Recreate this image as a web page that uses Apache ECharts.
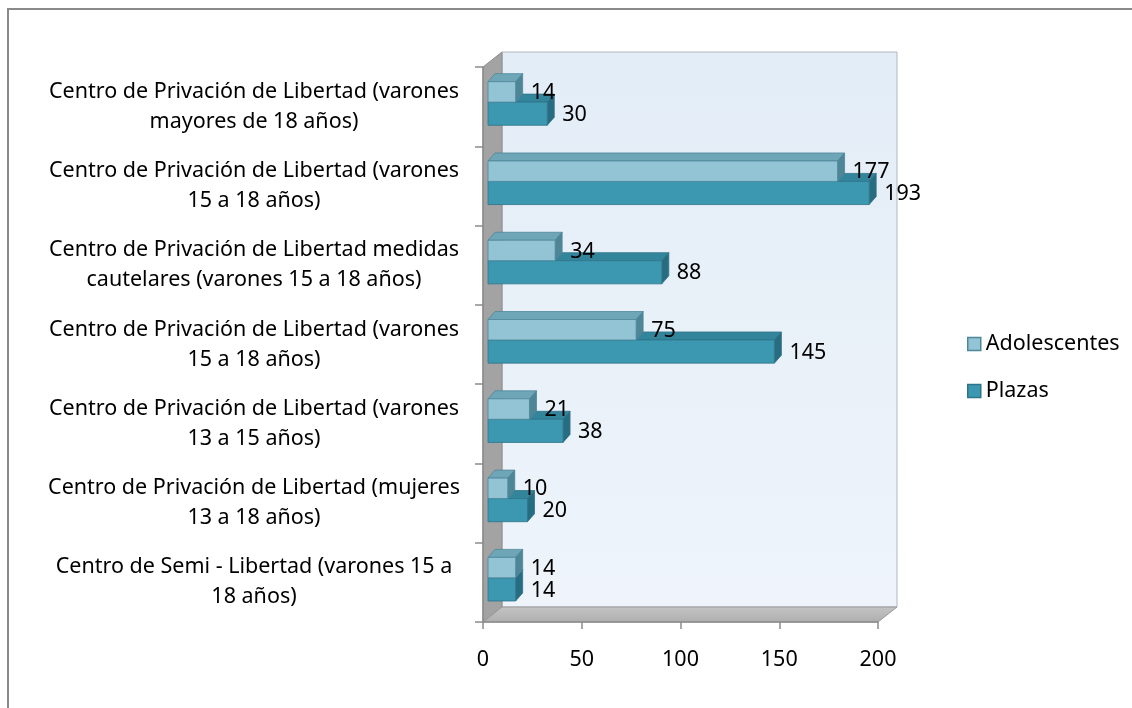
<!DOCTYPE html>
<html lang="es">
<head>
    <meta charset="UTF-8">
    <title>Centros</title>
    <script src="https://cdn.jsdelivr.net/npm/echarts@6/dist/echarts.min.js"></script>
</head>
<body style="margin:0;background:#fff;">

<div id="main" style="width:1132px;height:708px;"></div>

<script>
    // categorias de arriba a abajo
    var categorias = [
        'Centro de Privación de Libertad (varones\nmayores de 18 años)',
        'Centro de Privación de Libertad (varones\n15 a 18 años)',
        'Centro de Privación de Libertad medidas\ncautelares (varones 15 a 18 años)',
        'Centro de Privación de Libertad (varones\n15 a 18 años)',
        'Centro de Privación de Libertad (varones\n13 a 15 años)',
        'Centro de Privación de Libertad (mujeres\n13 a 18 años)',
        'Centro de Semi - Libertad (varones 15 a\n18 años)'
    ];
    var adolescentes = [14, 177, 34, 75, 21, 10, 14];
    var plazas = [30, 193, 88, 145, 38, 20, 14];
    var ticksX = [0, 50, 100, 150, 200];

    var myChart = echarts.init(document.getElementById('main'));

    // marco del grafico
    var G = {left: 483, right: 878, top: 67, bottom: 622};
    var DX = 19, DY = 15;      // profundidad de paredes
    var BDX = 7, BDY = 8;      // profundidad de las barras
    var SHIFT = 5;
    var FONT = 'Noto Sans';
    var FS = 21.5;

    function pairs(arr) {
        return arr.map(function (v, i) {
            return [v, i];
        });
    }

    function barRenderer(y0, y1, colors) {
        return function (params, api) {
            var idx = api.value(1), v = api.value(0);
            var start = api.coord([0, idx]);
            var end = api.coord([v, idx]);
            var band = api.size([0, 1])[1];
            var yc = start[1];
            var top = yc + y0 * band, bot = yc + y1 * band;
            var x0 = start[0] + SHIFT, x1 = end[0] + SHIFT;
            var edge = {stroke: colors.edge, lineWidth: 0.8};
            return {
                type: 'group',
                children: [
                    {
                        type: 'polygon',
                        shape: {points: [[x0, top], [x0 + BDX, top - BDY], [x1 + BDX, top - BDY], [x1, top]]},
                        style: Object.assign({fill: colors.top}, edge)
                    },
                    {
                        type: 'polygon',
                        shape: {points: [[x1, top], [x1 + BDX, top - BDY], [x1 + BDX, bot - BDY], [x1, bot]]},
                        style: Object.assign({fill: colors.side}, edge)
                    },
                    {
                        type: 'rect',
                        shape: {x: x0, y: top, width: x1 - x0, height: bot - top},
                        style: Object.assign({fill: colors.front}, edge)
                    },
                    {
                        type: 'text',
                        style: {
                            x: x1 + 15, y: (top + bot) / 2 + 1,
                            text: String(v),
                            fill: '#000',
                            font: FS + 'px "' + FONT + '"',
                            verticalAlign: 'middle',
                            align: 'left'
                        },
                        z2: 10
                    }
                ]
            };
        };
    }

    var wallGraphics = [
        {
            type: 'rect',
            shape: {x: 8, y: 9, width: 1200, height: 800},
            style: {fill: 'none', stroke: '#8a8a8a', lineWidth: 2},
            z: -20
        },
        {
            type: 'polygon',
            shape: {points: [[G.left + DX, G.top - DY], [G.right + DX, G.top - DY], [G.right + DX, G.bottom - DY], [G.left + DX, G.bottom - DY]]},
            style: {
                fill: new echarts.graphic.LinearGradient(0, 0, 0, 1, [
                    {offset: 0, color: '#e3edf7'},
                    {offset: 1, color: '#eef4fa'}
                ]),
                stroke: '#b0b8c0', lineWidth: 1
            },
            z: -10
        },
        {
            type: 'polygon',
            shape: {points: [[G.left, G.top], [G.left + DX, G.top - DY], [G.left + DX, G.bottom - DY], [G.left, G.bottom]]},
            style: {fill: '#a3a3a3', stroke: '#8c8c8c', lineWidth: 1},
            z: -9
        },
        {
            type: 'polygon',
            shape: {points: [[G.left, G.bottom], [G.left + DX, G.bottom - DY], [G.right + DX, G.bottom - DY], [G.right, G.bottom]]},
            style: {
                fill: new echarts.graphic.LinearGradient(0, 0, 0, 1, [
                    {offset: 0, color: '#c4c4c4'},
                    {offset: 1, color: '#aeaeae'}
                ]),
                stroke: '#9a9a9a', lineWidth: 1
            },
            z: -9
        }
    ];

    var colAdol = {front: '#92c4d6', top: '#6ea6b8', side: '#4f8697', edge: '#4e8798'};
    var colPlazas = {front: '#3c98b1', top: '#33859c', side: '#276c80', edge: '#2e7489'};

    var option = {
        backgroundColor: '#fff',
        animation: false,
        textStyle: {fontFamily: FONT},
        graphic: {elements: wallGraphics},
        legend: {
            orient: 'vertical',
            left: 962,
            top: 328,
            itemWidth: 13,
            itemHeight: 13,
            itemGap: 25,
            textStyle: {fontSize: FS, color: '#000', fontFamily: FONT},
            data: [
                {name: 'Adolescentes', icon: 'rect', itemStyle: {color: colAdol.front, borderColor: colAdol.edge, borderWidth: 1.5}},
                {name: 'Plazas', icon: 'rect', itemStyle: {color: colPlazas.front, borderColor: colPlazas.edge, borderWidth: 1.5}}
            ]
        },
        grid: {
            left: G.left,
            top: G.top,
            width: G.right - G.left,
            height: G.bottom - G.top
        },
        xAxis: {
            type: 'value',
            min: ticksX[0],
            max: ticksX[ticksX.length - 1],
            interval: ticksX[1] - ticksX[0],
            splitLine: {show: false},
            axisLine: {show: true, lineStyle: {color: '#8c8c8c', width: 1.5}},
            axisTick: {show: true, length: 7, lineStyle: {color: '#8c8c8c', width: 1.5}},
            axisLabel: {fontSize: FS, color: '#000', margin: 27, fontFamily: FONT}
        },
        yAxis: {
            type: 'category',
            inverse: true,
            data: categorias,
            axisLine: {show: true, lineStyle: {color: '#8c8c8c', width: 1.5}},
            axisTick: {show: true, length: 8, lineStyle: {color: '#8c8c8c', width: 1.5}},
            axisLabel: {
                fontSize: FS,
                color: '#000',
                align: 'center',
                margin: 229,
                lineHeight: 30,
                fontFamily: FONT
            }
        },
        series: [
            {
                name: 'Plazas',
                type: 'custom',
                z: 2,
                itemStyle: {color: colPlazas.front},
                encode: {x: 0, y: 1},
                data: pairs(plazas),
                renderItem: barRenderer(-0.057, 0.235, colPlazas)
            },
            {
                name: 'Adolescentes',
                type: 'custom',
                z: 3,
                itemStyle: {color: colAdol.front},
                encode: {x: 0, y: 1},
                data: pairs(adolescentes),
                renderItem: barRenderer(-0.315, -0.057, colAdol)
            }
        ]
    };

    myChart.setOption(option);
</script>

</body>
</html>
